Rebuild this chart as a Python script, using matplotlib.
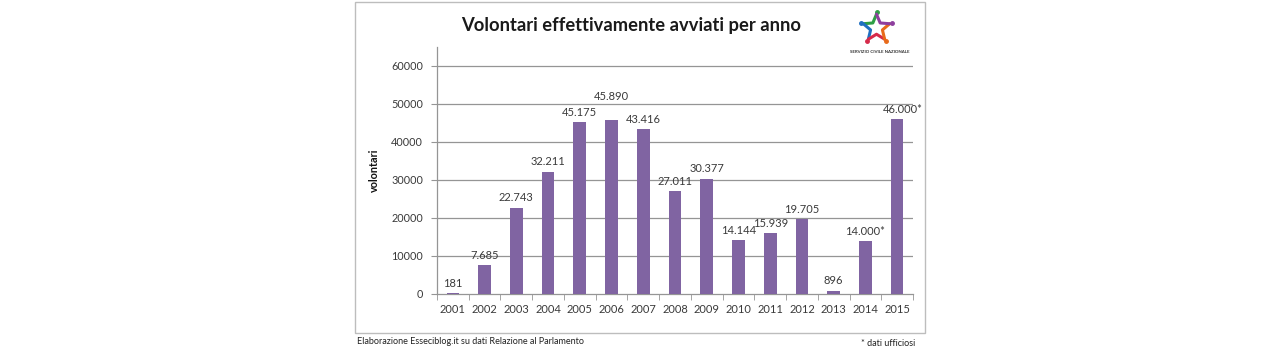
import matplotlib
matplotlib.use("Agg")
import matplotlib.pyplot as plt
from matplotlib.patches import Rectangle
import numpy as np

# data
anni = [2001, 2002, 2003, 2004, 2005, 2006, 2007, 2008, 2009, 2010, 2011, 2012, 2013, 2014, 2015]
volontari = [181, 7685, 22743, 32211, 45175, 45890, 43416, 27011, 30377, 14144, 15939, 19705, 896, 14000, 46000]
ufficiosi = [2014, 2015]          # dati ufficiosi -> asterisco
y_ticks = [0, 10000, 20000, 30000, 40000, 50000, 60000]

titolo = "Volontari effettivamente avviati per anno"
fonte = "Elaborazione Esseciblog.it su dati Relazione al Parlamento"
nota = "* dati ufficiosi"

bar_color = "#8064a2"
grid_color = "#959595"
txt_color = "#3a3a3a"
plt.rcParams["font.family"] = ["Lato", "DejaVu Sans"]

W, H = 1280, 350
fig = plt.figure(figsize=(12.8, 3.5), dpi=100)

def px(x0, y0, x1, y1):
    # pixel box -> figure coords
    return [x0 / W, 1 - y1 / H, (x1 - x0) / W, (y1 - y0) / H]

# chart border
fig.patches.append(Rectangle((355 / W, 1 - 333 / H), 570 / W, 331 / H,
                             transform=fig.transFigure, fill=False,
                             edgecolor="#bdbdbd", linewidth=1.0))

ax = fig.add_axes(px(437, 47, 913, 294))
x = np.arange(len(anni))
ax.bar(x, volontari, width=0.4, color=bar_color, zorder=3)
ax.set_xlim(-0.5, len(anni) - 0.5)
ax.set_ylim(0, 65000)

ax.set_yticks(y_ticks)
ax.set_yticklabels([str(v) for v in y_ticks], fontsize=7.8, color=txt_color)
ax.set_xticks(x)
ax.set_xticklabels([str(a) for a in anni], fontsize=8, color=txt_color)
ax.tick_params(axis="x", length=0, pad=7)
ax.tick_params(axis="y", length=4, color=grid_color, pad=6)
# tick marks between categories
ax.set_xticks(np.arange(-0.5, len(anni)), minor=True)
ax.tick_params(axis="x", which="minor", length=4, color=grid_color, direction="out")

for v in y_ticks[1:]:
    ax.axhline(v, color=grid_color, linewidth=0.9, zorder=1)
for s in ["top", "right"]:
    ax.spines[s].set_visible(False)
for s in ["left", "bottom"]:
    ax.spines[s].set_color(grid_color)
    ax.spines[s].set_linewidth(0.9)

ax.set_ylabel("volontari", fontsize=7.8, fontweight="bold", color="#111111", labelpad=8)

# etichette dati
for xi, a, v in zip(x, anni, volontari):
    lab = f"{v:,}".replace(",", ".") + ("*" if a in ufficiosi else "")
    dy = 3
    dx = 0
    if a == 2006:
        dy = 13
    if a == 2015:
        dx = 4
    ax.annotate(lab, (xi, v), xytext=(dx, dy), textcoords="offset points",
                ha="center", va="bottom", fontsize=8, color=txt_color)

fig.text(631 / W, 1 - 25 / H, titolo, ha="center", va="center",
         fontsize=13.2, fontweight="bold", color="#1a1a1a")

# logo servizio civile
lax = fig.add_axes(px(858, 10, 895, 46))
lax.set_xlim(-1.3, 1.3)
lax.set_ylim(-1.3, 1.3)
lax.set_aspect("equal")
lax.axis("off")
cols = ["#2e9e45", "#1f6fc1", "#d62a4a", "#e86a1a", "#8e3f9e"]
ang = np.pi / 2 + np.arange(10) * np.pi / 5
rad = np.where(np.arange(10) % 2 == 0, 1.0, 0.45)
vx, vy = rad * np.cos(ang), rad * np.sin(ang)
for i in range(5):
    idx = [2 * i, 2 * i + 1, (2 * i + 2) % 10]
    lax.plot(vx[idx], vy[idx], color=cols[i], linewidth=2.2, solid_capstyle="round")
    lax.plot(vx[2 * i] * 1.15, vy[2 * i] * 1.15, "o", color=cols[i], markersize=2.5)
fig.text(880 / W, 1 - 52 / H, "SERVIZIO CIVILE NAZIONALE", ha="center", va="center",
         fontsize=3.2, fontweight="bold", color="#333333")

fig.text(357 / W, 1 - 341 / H, fonte, ha="left", va="center", fontsize=6.5, color="#222222")
fig.text(915 / W, 1 - 343 / H, nota, ha="right", va="center", fontsize=6.5, color="#222222")

fig.savefig("out.png", dpi=100, facecolor="white")
